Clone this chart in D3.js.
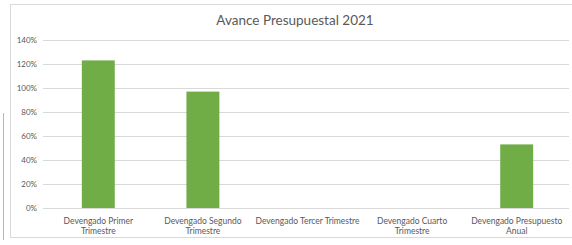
<!DOCTYPE html>
<html>
<head>
<meta charset="utf-8">
<script src="https://cdn.jsdelivr.net/npm/d3@7"></script>
<style>
  body { margin: 0; background: #fff; }
  svg text { font-family: Lato, "Open Sans", sans-serif; }
</style>
</head>
<body>
<script>
// categories (split into lines as in the original) and values
var categories = [
    ["Devengado Primer", "Trimestre"],
    ["Devengado Segundo", "Trimestre"],
    ["Devengado Tercer Trimestre"],
    ["Devengado Cuarto", "Trimestre"],
    ["Devengado Presupuesto", "Anual"]
];
var avance = [1.23, 0.97, 0, 0, 0.53];
var yTicks = [0, 0.2, 0.4, 0.6, 0.8, 1.0, 1.2, 1.4];
var title = "Avance Presupuestal 2021";

var W = 572, H = 245;
var plot = { left: 46, right: 569, top: 40, bottom: 208 };

var svg = d3.select("body").append("svg")
    .attr("width", W)
    .attr("height", H);

// chart frame
svg.append("rect")
    .attr("x", 10.5).attr("y", 4.5)
    .attr("width", 580).attr("height", 233)
    .attr("fill", "#fff")
    .attr("stroke", "#d9d9d9");

// little stray border line on the left of the picture
svg.append("line")
    .attr("x1", 3.5).attr("x2", 3.5)
    .attr("y1", 113).attr("y2", 240)
    .attr("stroke", "#b5b5b5");

var x = d3.scaleBand()
    .domain(d3.range(categories.length))
    .range([plot.left, plot.right])
    .paddingInner(0.685)
    .paddingOuter(0.3425);

var y = d3.scaleLinear()
    .domain([0, 1.4])
    .range([plot.bottom, plot.top]);

// gridlines
svg.append("g")
    .selectAll("line")
    .data(yTicks)
    .enter().append("line")
    .attr("x1", 43).attr("x2", plot.right)
    .attr("y1", function(d) { return Math.round(y(d)) + 0.5; })
    .attr("y2", function(d) { return Math.round(y(d)) + 0.5; })
    .attr("stroke", "#d9d9d9");

// y axis labels
svg.append("g")
    .selectAll("text")
    .data(yTicks)
    .enter().append("text")
    .attr("x", 37)
    .attr("y", function(d) { return y(d) + 3; })
    .attr("text-anchor", "end")
    .attr("font-size", "8px")
    .attr("fill", "#595959")
    .text(d3.format(".0%"));

// bars
svg.append("g")
    .selectAll("rect")
    .data(avance)
    .enter().append("rect")
    .attr("x", function(d, i) { return x(i); })
    .attr("y", function(d) { return y(d); })
    .attr("width", x.bandwidth())
    .attr("height", function(d) { return y(0) - y(d); })
    .attr("fill", "#70ad47");

// category labels
var lab = svg.append("g")
    .selectAll("text")
    .data(categories)
    .enter().append("text")
    .attr("text-anchor", "middle")
    .attr("font-size", "8.5px")
    .attr("fill", "#595959")
    .attr("transform", function(d, i) {
        return "translate(" + (x(i) + x.bandwidth() / 2) + ",224)";
    });

lab.selectAll("tspan")
    .data(function(d) { return d; })
    .enter().append("tspan")
    .attr("x", 0)
    .attr("dy", function(d, i) { return i ? 10 : 0; })
    .text(function(d) { return d; });

// title
svg.append("text")
    .attr("x", 295)
    .attr("y", 25)
    .attr("text-anchor", "middle")
    .attr("font-size", "13.5px")
    .attr("fill", "#595959")
    .text(title);
</script>
</body>
</html>
